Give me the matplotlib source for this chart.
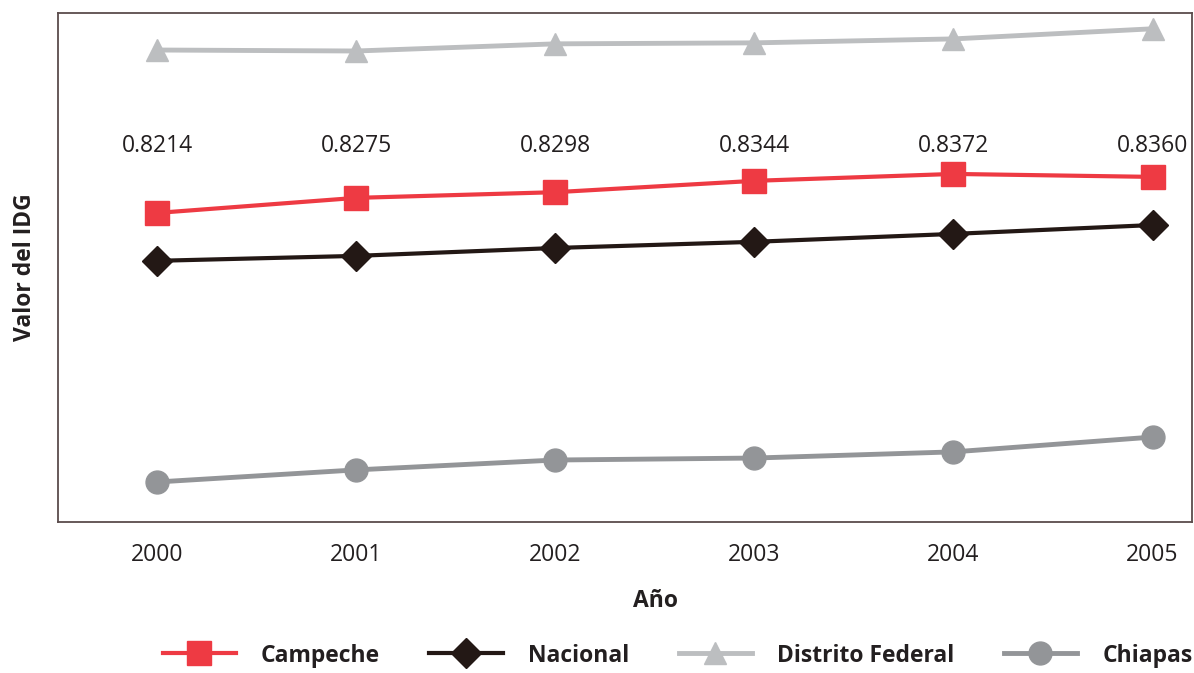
import matplotlib.pyplot as plt
from matplotlib.transforms import blended_transform_factory

plt.rcParams['font.family'] = ['Open Sans', 'DejaVu Sans']

anios = [2000, 2001, 2002, 2003, 2004, 2005]
campeche = [0.8214, 0.8275, 0.8298, 0.8344, 0.8372, 0.8360]
nacional = [0.8020, 0.8040, 0.8072, 0.8097, 0.8129, 0.8165]
distrito_federal = [0.8874, 0.8870, 0.8899, 0.8903, 0.8919, 0.8960]
chiapas = [0.7124, 0.7173, 0.7213, 0.7221, 0.7246, 0.7306]

fig = plt.figure(figsize=(11.94, 6.73), dpi=100)
ax = fig.add_axes([0.0486, 0.2244, 0.9494, 0.7563])

ax.plot(anios, campeche, color='#ee3a43', lw=3, marker='s', ms=17, label='Campeche', zorder=4)
ax.plot(anios, nacional, color='#231815', lw=3, marker='D', ms=15.5, label='Nacional', zorder=4)
ax.plot(anios, distrito_federal, color='#bcbec0', lw=3.5, marker='^', ms=16.5, label='Distrito Federal', zorder=3)
ax.plot(anios, chiapas, color='#939598', lw=3.5, marker='o', ms=16.5, label='Chiapas', zorder=3)

# etiquetas de Campeche a altura fija
trans = blended_transform_factory(ax.transData, ax.transAxes)
for x, v in zip(anios, campeche):
    ax.text(x, 0.739, f'{v:.4f}', transform=trans, ha='center', va='center',
            fontsize=16.5, color='#231f20')

ax.set_xlim(1999.503, 2005.196)
ax.set_ylim(0.6962, 0.9024)
ax.set_xticks(anios)
ax.set_xticklabels([str(a) for a in anios], fontsize=16.5, color='#231f20')
ax.set_yticks([])
ax.tick_params(axis='x', length=0, pad=15)
for s in ax.spines.values():
    s.set_color('#5b4c4c')
    s.set_linewidth(1.3)

ax.set_xlabel('Año', fontsize=16.5, fontweight='bold', color='#231f20')
ax.xaxis.set_label_coords(0.527, -0.131)
ax.set_ylabel('Valor del IDG', fontsize=16.5, fontweight='bold', color='#231f20', labelpad=15)

fig.legend(loc='center', bbox_to_anchor=(0.5674, 0.026), ncol=4, frameon=False,
           prop={'size': 16.5, 'weight': 'bold'}, handlelength=3.2, handletextpad=1.1,
           columnspacing=2.15, labelcolor='#231f20')

fig.savefig('out.png', dpi=100)
